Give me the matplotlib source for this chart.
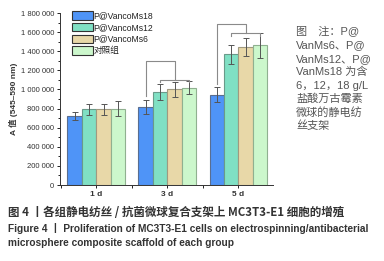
import numpy as np
import matplotlib.pyplot as plt
from matplotlib.ticker import MultipleLocator, FuncFormatter

plt.rcParams['font.family'] = ['Liberation Sans', 'Noto Sans CJK SC', 'DejaVu Sans']

# ---------------- data ----------------
days = ['1 d', '3 d', '5 d']
groups = ['P@VancoMs18', 'P@VancoMs12', 'P@VancoMs6', '对照组']
vals = [
    [722000, 817000, 947000],      # P@VancoMs18
    [793000, 975000, 1368000],     # P@VancoMs12
    [793000, 1000000, 1442000],    # P@VancoMs6
    [800000, 1020000, 1463000],    # control
]
errs = [
    [38000, 70000, 75000],
    [58000, 85000, 100000],
    [58000, 75000, 95000],
    [78000, 70000, 130000],
]
# bracket levels (3 d, 5 d)
brk_hi = [1297000, 1685000]
brk_lo = [1099000, 1590000]

colors = ['#4f94f7', '#80e0c4', '#e8d8a8', '#ccf7cc']
edges = ['#5a6e90', '#6a9a8a', '#a09a80', '#90b090']

fig = plt.figure(figsize=(3.84, 2.61), dpi=100)
ax = fig.add_axes([0.156, 0.291, 0.555, 0.659])

x = np.arange(len(days))
w = 0.204
for i in range(4):
    pos = x + (i - 1.5) * w
    ax.bar(pos, vals[i], w, color=colors[i], edgecolor=edges[i], linewidth=0.8,
           label=groups[i], zorder=2)
    ax.errorbar(pos, vals[i], yerr=errs[i], fmt='none', ecolor='#555555',
                elinewidth=0.7, capsize=2, capthick=0.7, zorder=3)

# significance brackets on 3 d and 5 d
bc = '#8a8a8a'
for k, g in enumerate([1, 2]):
    p0 = g - 1.5 * w
    p1 = g - 0.5 * w
    p3 = g + 1.5 * w
    mid = (p1 + p3) / 2
    ax.plot([p0, p0, mid, mid], [vals[0][g] + errs[0][g] + 40000, brk_hi[k], brk_hi[k], brk_lo[k]],
            color=bc, lw=0.8, zorder=4)
    ax.plot([p1, p1, p3, p3], [brk_lo[k] - 25000, brk_lo[k], brk_lo[k], brk_lo[k] - 25000],
            color=bc, lw=0.8, zorder=4)

ax.set_xlim(-0.514, 2.486)
ax.set_ylim(0, 1800000)
ax.set_xticks(x)
ax.set_xticklabels(days, fontsize=6, fontweight='bold', color='#333333')
ax.xaxis.set_minor_locator(MultipleLocator(0.5))
ax.yaxis.set_major_locator(MultipleLocator(200000))
ax.yaxis.set_minor_locator(MultipleLocator(100000))
ax.yaxis.set_major_formatter(FuncFormatter(lambda v, p: f'{int(v):,}'.replace(',', ' ')))
ax.tick_params(axis='y', labelsize=5.5, labelcolor='#333333', length=2.5, width=0.6, pad=1.5)
ax.tick_params(axis='y', which='minor', length=1.5, width=0.6)
ax.tick_params(axis='x', length=2.5, width=0.6, pad=1.5)
ax.tick_params(axis='x', which='minor', length=2, width=0.6)
for s in ['top', 'right']:
    ax.spines[s].set_visible(False)
for s in ['left', 'bottom']:
    ax.spines[s].set_linewidth(0.7)
    ax.spines[s].set_color('#333333')
ax.set_ylabel('A 值 (545–590 nm)', fontsize=6, fontweight='bold', color='#333333', labelpad=2)

leg = ax.legend(loc='upper left', bbox_to_anchor=(0.04, 1.03), frameon=False, fontsize=6.2,
                handlelength=2.4, handleheight=1.1, handletextpad=0.1, labelspacing=0.3,
                borderaxespad=0)
for h in leg.legend_handles:
    h.set_edgecolor('#333333')
for t in leg.get_texts():
    t.set_color('#222222')

# side note
note = ['图　注：P@', 'VanMs6、P@', 'VanMs12、P@', 'VanMs18 为含',
        '6，12，18 g/L', '盐酸万古霉素', '微球的静电纺', '丝支架']
for j, line in enumerate(note):
    fig.text(296 / 384, 1 - (32 + j * 13.4) / 261, line, fontsize=8, color='#555555',
             va='center', ha='left')

# caption
fig.text(8 / 384, 1 - 213 / 261, '图 4 丨各组静电纺丝 / 抗菌微球复合支架上 MC3T3-E1 细胞的增殖',
         fontsize=8.3, fontweight='bold', color='#333333', va='center', ha='left',
         family=['Noto Sans CJK SC', 'DejaVu Sans'])
fig.text(8 / 384, 1 - 228 / 261, 'Figure 4 丨 Proliferation of MC3T3-E1 cells on electrospinning/antibacterial',
         fontsize=7.3, fontweight='bold', color='#333333', va='center', ha='left')
fig.text(8 / 384, 1 - 243 / 261, 'microsphere composite scaffold of each group',
         fontsize=7.3, fontweight='bold', color='#333333', va='center', ha='left')

fig.savefig('out.png', dpi=100)
